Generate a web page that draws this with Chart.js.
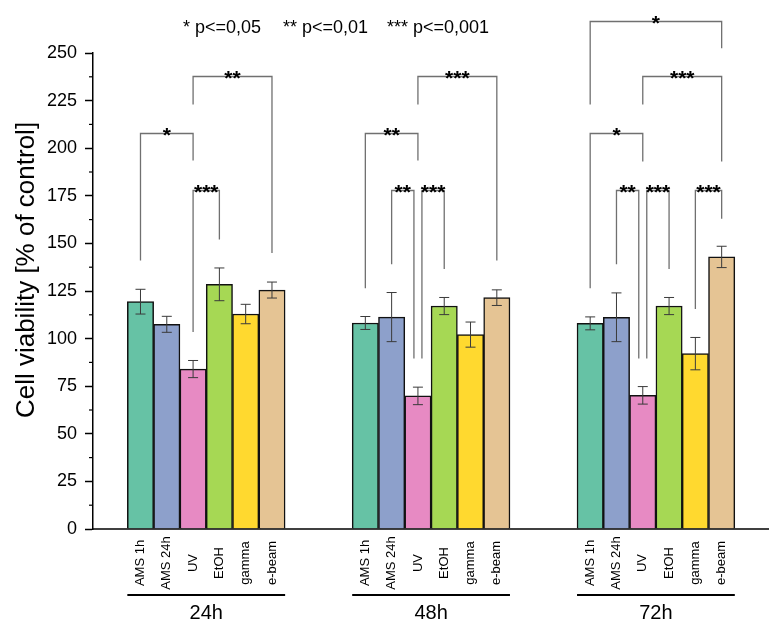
<!DOCTYPE html>
<html>
<head>
<meta charset="utf-8">
<script src="https://cdn.jsdelivr.net/npm/chart.js@4.4.1/dist/chart.umd.min.js"></script>
<style>
  html, body { margin: 0; padding: 0; background: #fff; }
  canvas { display: block; }
</style>
</head>
<body>
<canvas id="viabilityChart" width="776" height="628"></canvas>
<script>
const groups = ['24h', '48h', '72h'];
const treatments = ['AMS 1h', 'AMS 24h', 'UV', 'EtOH', 'gamma', 'e-beam'];

// mean and error (% of control) per time point, in treatment order
const mean24h = [119.4, 107.5, 84.0, 128.5, 112.9, 125.5];
const err24h  = [6.5, 4.2, 4.5, 8.6, 5.1, 4.2];
const mean48h = [108.2, 111.3, 69.9, 117.1, 102.1, 121.5];
const err48h  = [3.4, 12.9, 4.6, 4.5, 6.6, 4.1];
const mean72h = [108.0, 111.2, 70.2, 117.1, 92.1, 142.9];
const err72h  = [3.4, 12.8, 4.6, 4.5, 8.5, 5.6];

// significance brackets: time point, from bar, to bar, height, where each leg stops
const bracketGroup = [0, 0, 0, 1, 1, 1, 1, 2, 2, 2, 2, 2, 2];
const bracketFrom  = [2, 0, 2, 2, 0, 1, 2, 0, 2, 0, 1, 2, 4];
const bracketTo    = [5, 2, 3, 5, 2, 2, 3, 5, 5, 2, 2, 3, 5];
const bracketLevel = [238, 208, 178, 238, 208, 178, 178, 267, 238, 208, 178, 178, 178];
const bracketLeft  = [223, 141, 103.5, 223, 126.5, 139, 89.5, 223, 223, 126.5, 139, 89.5, 115.5];
const bracketRight = [145, 193.5, 152, 141, 193.5, 89.5, 136.5, 252.5, 193, 193, 89.5, 136.5, 163];
const bracketStars = ['**', '*', '***', '***', '**', '**', '***', '*', '***', '*', '**', '***', '***'];

const pLegend = ['* p<=0,05', '** p<=0,01', '*** p<=0,001'];
const yTitle = 'Cell viability [% of control]';

const colors = ['#66c2a5', '#8da0cb', '#e78ac3', '#a6d854', '#ffd92f', '#e5c494'];
const GROUP_STEP = 8.55;   // distance between time points, in bar widths
const FONT = "'Liberation Sans', Arial, sans-serif";

const means = [mean24h, mean48h, mean72h];
const errs = [err24h, err48h, err72h];
const barPos = (g, i) => g * GROUP_STEP + i;

Chart.defaults.font.family = FONT;
Chart.defaults.color = '#000';

const datasets = treatments.map((name, i) => ({
    label: name,
    data: groups.map((g, gi) => ({ x: barPos(gi, i), y: means[gi][i] })),
    backgroundColor: colors[i],
    borderColor: '#111',
    borderWidth: 1.5,
    grouped: false,
    barPercentage: 1,
    categoryPercentage: 1
}));

const decorations = {
    id: 'decorations',
    beforeDraw(chart) {
        const ctx = chart.ctx;
        ctx.save();
        ctx.fillStyle = '#fff';
        ctx.fillRect(0, 0, chart.width, chart.height);
        ctx.restore();
    },
    afterDatasetsDraw(chart) {
        const ctx = chart.ctx;
        const x = chart.scales.x;
        const y = chart.scales.y;
        const area = chart.chartArea;
        ctx.save();

        // error bars
        ctx.strokeStyle = '#3a3a3a';
        ctx.lineWidth = 1;
        groups.forEach((g, gi) => {
            treatments.forEach((t, i) => {
                const px = x.getPixelForValue(barPos(gi, i));
                const top = y.getPixelForValue(means[gi][i] + errs[gi][i]);
                const bot = y.getPixelForValue(means[gi][i] - errs[gi][i]);
                ctx.beginPath();
                ctx.moveTo(px, top); ctx.lineTo(px, bot);
                ctx.moveTo(px - 5, top); ctx.lineTo(px + 5, top);
                ctx.moveTo(px - 5, bot); ctx.lineTo(px + 5, bot);
                ctx.stroke();
            });
        });

        // x axis line
        ctx.strokeStyle = '#000';
        ctx.lineWidth = 1.5;
        const y0 = y.getPixelForValue(0);
        ctx.beginPath();
        ctx.moveTo(area.left, y0); ctx.lineTo(area.right, y0);
        ctx.stroke();

        // minor y ticks
        ctx.lineWidth = 1.2;
        for (let v = 12.5; v < 250; v += 25) {
            const py = y.getPixelForValue(v);
            ctx.beginPath();
            ctx.moveTo(area.left - 4, py); ctx.lineTo(area.left, py);
            ctx.stroke();
        }

        // significance brackets
        ctx.strokeStyle = '#707070';
        ctx.lineWidth = 1.3;
        ctx.fillStyle = '#000';
        ctx.font = 'bold 21px ' + FONT;
        ctx.textAlign = 'center';
        ctx.textBaseline = 'alphabetic';
        bracketGroup.forEach((g, k) => {
            let lx = x.getPixelForValue(barPos(g, bracketFrom[k]));
            let rx = x.getPixelForValue(barPos(g, bracketTo[k]));
            bracketGroup.forEach((g2, j) => {
                if (j === k || g2 !== g || bracketLevel[j] !== bracketLevel[k]) return;
                if (bracketFrom[j] === bracketTo[k]) rx -= 4;
                if (bracketTo[j] === bracketFrom[k]) lx += 4;
            });
            const ly = Math.round(y.getPixelForValue(bracketLevel[k])) + 0.5;
            ctx.beginPath();
            ctx.moveTo(lx, y.getPixelForValue(bracketLeft[k]));
            ctx.lineTo(lx, ly);
            ctx.lineTo(rx, ly);
            ctx.lineTo(rx, y.getPixelForValue(bracketRight[k]));
            ctx.stroke();
            ctx.fillText(bracketStars[k], (lx + rx) / 2, ly + 8.5);
        });

        // category labels, group rules and group names
        ctx.fillStyle = '#000';
        ctx.strokeStyle = '#000';
        groups.forEach((g, gi) => {
            ctx.font = '13px ' + FONT;
            ctx.textAlign = 'center';
            ctx.textBaseline = 'middle';
            treatments.forEach((t, i) => {
                ctx.save();
                ctx.translate(x.getPixelForValue(barPos(gi, i)), 563);
                ctx.rotate(-Math.PI / 2);
                ctx.fillText(t, 0, 0);
                ctx.restore();
            });
            const gl = x.getPixelForValue(barPos(gi, -0.5));
            const gr = x.getPixelForValue(barPos(gi, treatments.length - 0.5));
            ctx.lineWidth = 1.8;
            ctx.beginPath();
            ctx.moveTo(gl, 595); ctx.lineTo(gr, 595);
            ctx.stroke();
            ctx.font = '20px ' + FONT;
            ctx.textBaseline = 'alphabetic';
            ctx.fillText(g, (gl + gr) / 2, 619);
        });

        // y axis title
        ctx.save();
        ctx.translate(27, 270);
        ctx.rotate(-Math.PI / 2);
        ctx.font = '26px ' + FONT;
        ctx.textAlign = 'center';
        ctx.textBaseline = 'middle';
        ctx.fillText(yTitle, 0, 0);
        ctx.restore();

        // p value legend
        ctx.font = '18px ' + FONT;
        ctx.textAlign = 'left';
        ctx.textBaseline = 'alphabetic';
        [183, 283, 387].forEach((lx, i) => ctx.fillText(pLegend[i], lx, 33));

        ctx.restore();
    }
};

new Chart(document.getElementById('viabilityChart'), {
    type: 'bar',
    data: { datasets },
    options: {
        responsive: false,
        animation: false,
        layout: { padding: { left: 0, top: 53, right: 7, bottom: 99 } },
        plugins: {
            legend: { display: false },
            tooltip: { enabled: false }
        },
        scales: {
            x: {
                type: 'linear',
                display: false,
                offset: false,
                min: -1.806,
                max: 23.9,
                afterBuildTicks: (scale) => {
                    scale.ticks = groups.flatMap((g, gi) => treatments.map((t, i) => ({ value: barPos(gi, i) })));
                }
            },
            y: {
                min: 0,
                max: 250,
                afterFit: (scale) => { scale.width = 93; },
                ticks: { stepSize: 25, padding: 8, color: '#000', font: { size: 18 } },
                grid: {
                    drawOnChartArea: false,
                    drawTicks: true,
                    tickLength: 8,
                    tickColor: '#000',
                    tickWidth: 1.5
                },
                border: { display: true, color: '#000', width: 1.5 }
            }
        }
    },
    plugins: [decorations]
});
</script>
</body>
</html>
